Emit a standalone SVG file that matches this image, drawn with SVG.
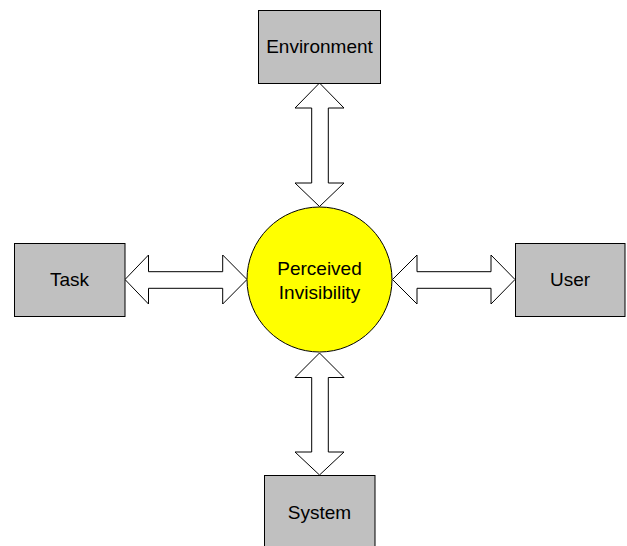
<svg xmlns="http://www.w3.org/2000/svg" width="627" height="546" viewBox="0 0 627 546">
  <style>
    .box { fill: #c0c0c0; stroke: #000; stroke-width: 1; }
    .hub { fill: #ffff00; stroke: #000; stroke-width: 1; }
    .arrow { fill: #fff; stroke: #000; stroke-width: 1; stroke-linejoin: miter; }
    .label { font-family: "Liberation Sans", Arial, sans-serif; font-size: 19px; fill: #000; text-anchor: middle; dominant-baseline: central; }
  </style>
  <rect width="627" height="546" fill="#fff"/>

  <g id="connectors">
    <!-- Environment <-> hub -->
    <polygon class="arrow" points="319.5,83 344,108 328.3,108 328.3,183 344,183 319.5,206.5 295,183 311.7,183 311.7,108 295,108"/>
    <!-- Task <-> hub -->
    <polygon class="arrow" points="125,279.5 148.5,255 148.5,271.7 222.7,271.7 222.7,255 247,279.5 222.7,304 222.7,288.3 148.5,288.3 148.5,304"/>
    <!-- hub <-> User -->
    <polygon class="arrow" points="392.5,279.5 417,255 417,271.7 491,271.7 491,255 515,279.5 491,304 491,288.3 417,288.3 417,304"/>
    <!-- hub <-> System -->
    <polygon class="arrow" points="319.5,353 344,377.5 328.3,377.5 328.3,452 344,452 319.5,475 295,452 311.7,452 311.7,377.5 295,377.5"/>
  </g>

  <g id="environment">
    <rect class="box" x="258.5" y="10.5" width="122" height="73"/>
    <text class="label" x="319.5" y="46.5">Environment</text>
  </g>

  <g id="task">
    <rect class="box" x="14.5" y="243.5" width="110.5" height="73"/>
    <text class="label" x="69.5" y="279.5">Task</text>
  </g>

  <g id="user">
    <rect class="box" x="515.5" y="243.5" width="109.5" height="73"/>
    <text class="label" x="570" y="279.5">User</text>
  </g>

  <g id="system">
    <rect class="box" x="264.5" y="475.5" width="110.5" height="80"/>
    <text class="label" x="319.5" y="512">System</text>
  </g>

  <g id="perceived-invisibility">
    <circle class="hub" cx="319.5" cy="279.5" r="72.5"/>
    <text class="label" x="319.5" y="268">Perceived</text>
    <text class="label" x="319.5" y="292">Invisibility</text>
  </g>
</svg>
